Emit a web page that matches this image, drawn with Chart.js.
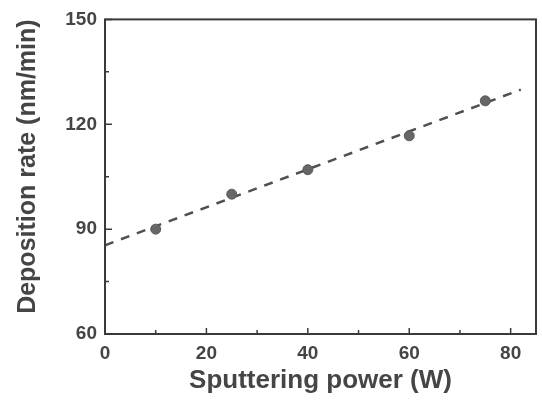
<!DOCTYPE html>
<html><head><meta charset="utf-8">
<script src="https://cdn.jsdelivr.net/npm/chart.js@4/dist/chart.umd.min.js"></script>
<style>html,body{margin:0;padding:0;background:#fff}#wrap{width:542px;height:404px}</style>
</head><body><div id="wrap"><canvas id="c" width="542" height="404"></canvas></div>
<script>
const powerW = [10, 25, 40, 60, 75];
const rateNm = [90, 100, 107, 116.7, 126.7];
const fitX = [0, 82];
const fitY = [85.4, 129.9];
const xTicks = [0, 20, 40, 60, 80];
const yTicks = [60, 90, 120, 150];
const xMinor = [10, 30, 50, 70];
const yMinor = [75, 105, 135];

const ink = '#3a3a3a';
const txt = '#454545';

const frame = {
  id: 'frame',
  afterDraw(chart) {
    const {ctx, chartArea: a, scales: {x, y}} = chart;
    ctx.save();
    ctx.strokeStyle = ink;
    ctx.lineWidth = 2;
    ctx.strokeRect(a.left, a.top, a.right - a.left, a.bottom - a.top);
    ctx.lineWidth = 1.5;
    ctx.beginPath();
    xTicks.forEach(v => { const p = x.getPixelForValue(v); ctx.moveTo(p, a.bottom); ctx.lineTo(p, a.bottom - 6); });
    xMinor.forEach(v => { const p = x.getPixelForValue(v); ctx.moveTo(p, a.bottom); ctx.lineTo(p, a.bottom - 4); });
    yTicks.forEach(v => { const p = y.getPixelForValue(v); ctx.moveTo(a.left, p); ctx.lineTo(a.left + 7, p); });
    yMinor.forEach(v => { const p = y.getPixelForValue(v); ctx.moveTo(a.left, p); ctx.lineTo(a.left + 4, p); });
    ctx.stroke();
    ctx.restore();
  }
};

new Chart(document.getElementById('c'), {
  type: 'scatter',
  data: {
    datasets: [
      {
        label: 'fit',
        data: fitX.map((v, i) => ({x: v, y: fitY[i]})),
        showLine: true,
        borderColor: '#505050',
        borderWidth: 2.5,
        borderDash: [9, 8],
        pointRadius: 0,
        fill: false,
        order: 2
      },
      {
        label: 'data',
        data: powerW.map((v, i) => ({x: v, y: rateNm[i]})),
        pointRadius: 5,
        pointBackgroundColor: '#676767',
        pointBorderColor: '#5a5a5a',
        pointBorderWidth: 1,
        order: 1
      }
    ]
  },
  options: {
    responsive: false,
    animation: false,
    devicePixelRatio: 1,
    layout: {padding: {top: 16, right: 5, left: 0, bottom: 0}},
    plugins: {legend: {display: false}, tooltip: {enabled: false}},
    scales: {
      x: {
        type: 'linear', min: 0, max: 85,
        afterBuildTicks: s => { s.ticks = xTicks.map(v => ({value: v})); },
        afterFit: s => { s.height = 70; },
        grid: {display: false, drawTicks: false},
        border: {display: false},
        ticks: {color: txt, font: {family: 'Liberation Sans, Arial', size: 19, weight: 'bold'}, padding: 8, maxRotation: 0},
        title: {display: true, text: 'Sputtering power (W)', color: txt,
                font: {family: 'Liberation Sans, Arial', size: 26, weight: 'bold'}, padding: {top: 0, bottom: 8}}
      },
      y: {
        type: 'linear', min: 60, max: 150,
        afterBuildTicks: s => { s.ticks = yTicks.map(v => ({value: v})); },
        afterFit: s => { s.width = 105; },
        grid: {display: false, drawTicks: false},
        border: {display: false},
        ticks: {color: txt, font: {family: 'Liberation Sans, Arial', size: 19, weight: 'bold'}, padding: 8},
        title: {display: true, text: 'Deposition rate (nm/min)', color: txt, align: 'end',
                font: {family: 'Liberation Sans, Arial', size: 25, weight: 'bold'}, padding: {top: 13, bottom: 13}}
      }
    }
  },
  plugins: [frame]
});
</script></body></html>
